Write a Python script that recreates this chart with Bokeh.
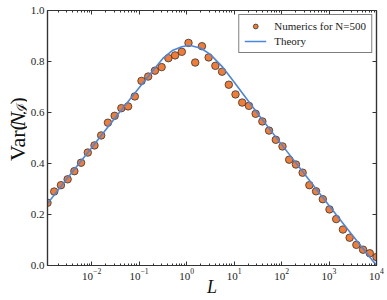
import math
from bokeh.plotting import figure
from bokeh.layouts import row
from bokeh.models import (LogAxis, LinearAxis, FixedTicker, LogTickFormatter,
                          PrintfTickFormatter, Range1d, Legend, LegendItem)
from bokeh.core.properties import value
from bokeh.embed import file_html
from bokeh.resources import INLINE

# ---- data ----
L_numerics = [0.001175, 0.001627, 0.002254, 0.003119, 0.004321, 0.005984, 0.008293,
              0.01148, 0.01589, 0.02203, 0.03050, 0.04227, 0.05848, 0.08110, 0.1122,
              0.1552, 0.2153, 0.2979, 0.4130, 0.5715, 0.7925, 1.096, 1.518, 2.104,
              2.911, 4.036, 5.585, 7.745, 10.72, 14.83, 20.56, 28.44, 39.45, 54.58,
              75.68, 104.7, 144.9, 200.9, 278.0, 385.5, 533.3, 739.6, 1023.0, 1416.0,
              1963.0, 2716.0, 3767.0, 5212.0, 7228.0, 10000.0]
var_numerics = [0.246, 0.290, 0.315, 0.338, 0.370, 0.403, 0.443, 0.471, 0.510, 0.560,
                0.587, 0.617, 0.624, 0.663, 0.724, 0.741, 0.764, 0.778, 0.813, 0.824,
                0.838, 0.873, 0.796, 0.860, 0.816, 0.783, 0.760, 0.709, 0.671, 0.639,
                0.626, 0.595, 0.565, 0.529, 0.493, 0.467, 0.415, 0.396, 0.364, 0.315,
                0.291, 0.260, 0.220, 0.182, 0.141, 0.109, 0.081, 0.062, 0.048, 0.033]

theory_L = [0.001175, 0.00316, 0.01, 0.0316, 0.1, 0.2, 0.316, 0.5, 0.794, 1.0, 1.259,
            2.0, 3.16, 5.62, 10.0, 31.6, 100.0, 316.0, 1000.0, 3162.0, 10000.0]
theory_var = [0.243, 0.345, 0.462, 0.580, 0.697, 0.767, 0.812, 0.843, 0.858, 0.862,
              0.862, 0.852, 0.828, 0.780, 0.720, 0.595, 0.475, 0.355, 0.235, 0.117, 0.0]

x_major_ticks = [1e-2, 1e-1, 1e0, 1e1, 1e2, 1e3, 1e4]
x_minor_ticks = [k * 10.0 ** e for e in range(-3, 4) for k in range(2, 10)
                 if 0.001175 < k * 10.0 ** e < 1e4]
y_ticks = [0.0, 0.2, 0.4, 0.6, 0.8, 1.0]
legend_labels = ["Numerics for N=500", "Theory"]
x_label = "L"
y_label_parts = ["Var(", "N", "\u2110", ")"]

FONT = "Liberation Serif"
SPINE = "#333333"
FW, FH = 329, 255
YLAB_W, H = 27, 300

# ---------- main plot ----------
p = figure(x_axis_type="log", x_range=Range1d(0.001175, 10000), y_range=Range1d(0, 1),
           frame_width=FW, frame_height=FH, output_backend="svg", toolbar_location=None,
           min_border_left=44 - YLAB_W, min_border_right=14, min_border_top=10,
           min_border_bottom=35)
p.background_fill_color = "white"
p.border_fill_color = "white"
p.xgrid.visible = False
p.ygrid.visible = False
p.outline_line_color = SPINE
p.outline_line_width = 1.2

sc = p.scatter(L_numerics, var_numerics, size=7.5, fill_color="#f37c35",
               line_color="#333333", line_width=0.8)
ln = p.line(theory_L, theory_var, line_color="#4a86e0", line_width=1.6)

xt = FixedTicker(ticks=x_major_ticks, minor_ticks=x_minor_ticks)
yt = FixedTicker(ticks=y_ticks)


def style(ax, show_labels):
    ax.major_tick_in = 4
    ax.major_tick_out = 0
    ax.minor_tick_in = 2
    ax.minor_tick_out = 0
    ax.axis_line_color = SPINE
    ax.axis_line_width = 1.2
    ax.major_tick_line_color = SPINE
    ax.minor_tick_line_color = SPINE
    if show_labels:
        ax.major_label_text_font = FONT
        ax.major_label_text_font_size = "11px"
        ax.major_label_text_color = "#222222"
        ax.major_label_standoff = 4
    else:
        ax.formatter = PrintfTickFormatter(format="")
        ax.major_label_text_font_size = "1px"
        ax.major_label_text_alpha = 0
        ax.major_label_standoff = 0


xb = p.below[0]
xb.ticker = xt
xb.formatter = LogTickFormatter()
style(xb, True)
xb.major_label_standoff = 3
xb.axis_label = x_label
xb.axis_label_text_font = FONT
xb.axis_label_text_font_style = "italic"
xb.axis_label_text_font_size = "18px"
xb.axis_label_text_color = "#111111"
xb.axis_label_standoff = -6

yl = p.left[0]
yl.ticker = yt
yl.formatter = PrintfTickFormatter(format="%.1f")
style(yl, True)
yl.minor_tick_line_color = None
yl.major_label_standoff = 3

xa = LogAxis(ticker=xt)
style(xa, False)
p.add_layout(xa, "above")

yr = LinearAxis(ticker=yt)
style(yr, False)
yr.minor_tick_line_color = None
p.add_layout(yr, "right")

legend = Legend(items=[LegendItem(label=legend_labels[0], renderers=[sc]),
                       LegendItem(label=legend_labels[1], renderers=[ln])],
                location="top_right")
legend.margin = 4
legend.padding = 5
legend.spacing = 3
legend.glyph_height = 12
legend.glyph_width = 22
legend.label_height = 12
legend.label_standoff = 8
legend.label_text_font = FONT
legend.label_text_font_size = "11px"
legend.label_text_color = "#222222"
legend.border_line_color = "black"
legend.border_line_width = 1
legend.background_fill_color = "white"
legend.background_fill_alpha = 1.0
p.add_layout(legend, "center")

# ---------- narrow strip holding the rotated y-axis title ----------
q = figure(width=YLAB_W, height=H, x_range=Range1d(0, YLAB_W), y_range=Range1d(0, H),
           output_backend="svg", toolbar_location=None, min_border=0,
           x_axis_location=None, y_axis_location=None)
q.grid.visible = False
q.outline_line_color = None
q.background_fill_color = "white"
q.border_fill_color = "white"

# (x baseline, y start from bottom, size, style, font) for each title piece
ylab_specs = [
    (17, H - 177, "22px", "normal", FONT),
    (17, H - 177 + 40.3, "22px", "italic", FONT),
    (21, H - 177 + 55.5, "15px", "normal", "DejaVu Serif"),
    (17, H - 177 + 66.5, "22px", "normal", FONT),
]
for part, (lx, ly, fs, st, fnt) in zip(y_label_parts, ylab_specs):
    q.text(x=[lx], y=[ly], text=[part], angle=math.pi / 2,
           text_font=value(fnt), text_font_style=st, text_font_size=value(fs),
           text_color="#111111", text_align="left", text_baseline="alphabetic")

layout = row(q, p)
open("out.html", "w").write(file_html(layout, INLINE))
